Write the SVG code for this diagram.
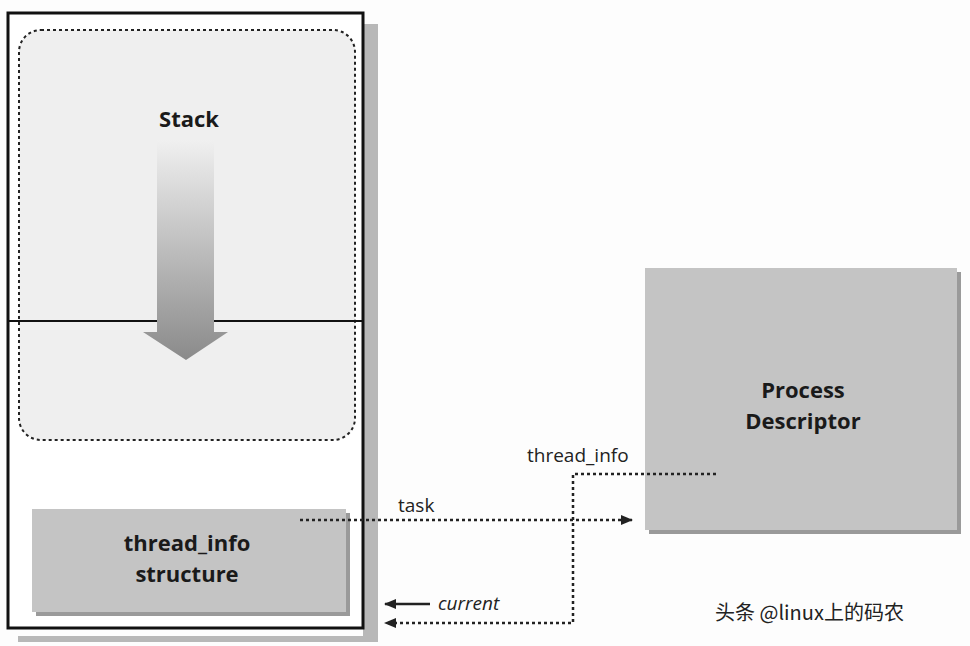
<svg xmlns="http://www.w3.org/2000/svg" width="970" height="646" viewBox="0 0 970 646">
<style>
.b{font-family:"Open Sans","DejaVu Sans",sans-serif;font-weight:bold;font-size:22px;fill:#1a1a1a;text-anchor:middle}
.l{font-family:"Open Sans","DejaVu Sans",sans-serif;font-size:19px;fill:#222}
.d{fill:none;stroke:#222;stroke-width:2.5;stroke-dasharray:3 3}
</style>
<defs>
<marker id="a" markerWidth="12" markerHeight="10" refX="11" refY="5" orient="auto" markerUnits="userSpaceOnUse"><path d="M0,0L12,5L0,10z" fill="#222"/></marker>
<linearGradient id="g" x1="0" y1="0" x2="0" y2="1"><stop offset="0" stop-color="#f0f0f0"/><stop offset="1" stop-color="#8a8a8a"/></linearGradient>
</defs>
<rect width="970" height="646" fill="#fdfdfd"/>
<g id="stack-area">
<rect x="363" y="24" width="15" height="618" fill="#b8b8b8"/>
<rect x="18" y="636" width="360" height="6" fill="#b8b8b8"/>
<rect x="8" y="13" width="355" height="615" fill="#fff" stroke="#111" stroke-width="3"/>
<rect x="19" y="30" width="336" height="410" rx="22" fill="#efefef" stroke="#222" stroke-width="2" stroke-dasharray="3 3"/>
<line x1="8" y1="321" x2="363" y2="321" stroke="#111" stroke-width="2"/>
<path d="M157,140H214V332H228L186,360L143,332H157Z" fill="url(#g)"/>
<text class="b" x="189" y="127">Stack</text>
</g>
<g id="thread_info">
<rect x="36" y="513" width="314" height="103" fill="#9a9a9a"/>
<rect x="32" y="509" width="314" height="103" fill="#c4c4c4"/>
<text class="b" x="187" y="551">thread_info</text>
<text class="b" x="187" y="582">structure</text>
</g>
<g id="process_descriptor">
<rect x="649" y="272" width="312" height="262" fill="#9a9a9a"/>
<rect x="645" y="268" width="312" height="262" fill="#c4c4c4"/>
<text class="b" x="803" y="398">Process</text>
<text class="b" x="803" y="429">Descriptor</text>
</g>
<g id="connectors">
<path class="d" d="M300,520H632" marker-end="url(#a)"/>
<path class="d" d="M716,474H573V623H385" marker-end="url(#a)"/>
<path d="M430,604H385" stroke="#222" stroke-width="2.5" marker-end="url(#a)"/>
<text class="l" x="398" y="512">task</text>
<text class="l" x="527" y="462">thread_info</text>
<text class="l" x="438" y="610" font-style="italic">current</text>
</g>
<text x="715" y="620" font-family="'Noto Sans CJK SC',sans-serif" font-size="20" fill="#222">头条 @linux上的码农</text>
</svg>
